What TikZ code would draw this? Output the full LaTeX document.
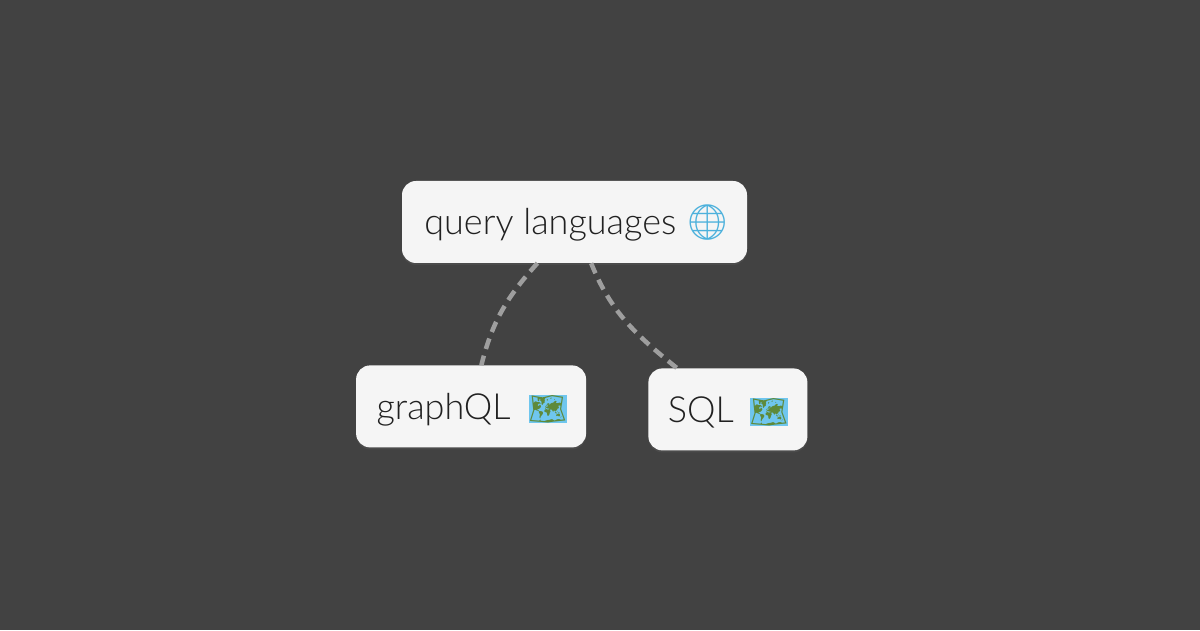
\documentclass[tikz,border=0pt]{standalone}
\usepackage{fontspec}
\setmainfont{Lato Light}
\newfontfamily\emojifont{Noto Emoji}
\usetikzlibrary{positioning,shadows}
\definecolor{bgcol}{HTML}{424242}
\definecolor{boxcol}{HTML}{F5F5F5}
\definecolor{inkcol}{HTML}{212121}
\definecolor{edgecol}{HTML}{9E9E9E}
\definecolor{globecol}{HTML}{4DB1DC}
\definecolor{mapcol}{HTML}{6FC6EE}
\definecolor{landcol}{HTML}{5E8A3A}
\newcommand{\globeicon}{{\emojifont\fontsize{35}{35}\selectfont\textcolor{globecol}{\char"1F310}}}
\newcommand{\mapicon}{{\setlength{\fboxsep}{0pt}\colorbox{mapcol}{\emojifont\fontsize{30}{30}\selectfont\textcolor{landcol}{\char"1F5FA}}}}
\tikzset{topic/.style={rounded corners=14pt,fill=boxcol,text=inkcol,minimum height=82pt,inner sep=0pt,
           text height=32pt,text depth=6pt,
           font=\fontsize{36}{36}\selectfont,drop shadow={shadow xshift=0pt,shadow yshift=-2pt,opacity=0.15}},
         link/.style={edgecol,line width=4.5pt,dash pattern=on 11pt off 7pt}
}
\begin{document}
\begin{tikzpicture}[x=1pt,y=1pt]
\useasboundingbox[fill=bgcol] (0,0) rectangle (1200,630);

\node[topic,minimum width=345pt] (root) at (574.5,408) {\hspace{5pt}query languages\hspace{9pt}\globeicon};
\node[topic,minimum width=230pt,below left=102pt and -184.5pt of root] (graphql) {\hspace{1pt}graphQL\hspace{18pt}\mapicon};
\node[topic,minimum width=159pt,below right=105pt and -99pt of root] (sql) {SQL\hspace{16pt}\mapicon};
\draw[link] (root) to[out=228,in=76] (graphql);
\draw[link] (root) to[out=292,in=141] (sql);

\end{tikzpicture}
\end{document}
